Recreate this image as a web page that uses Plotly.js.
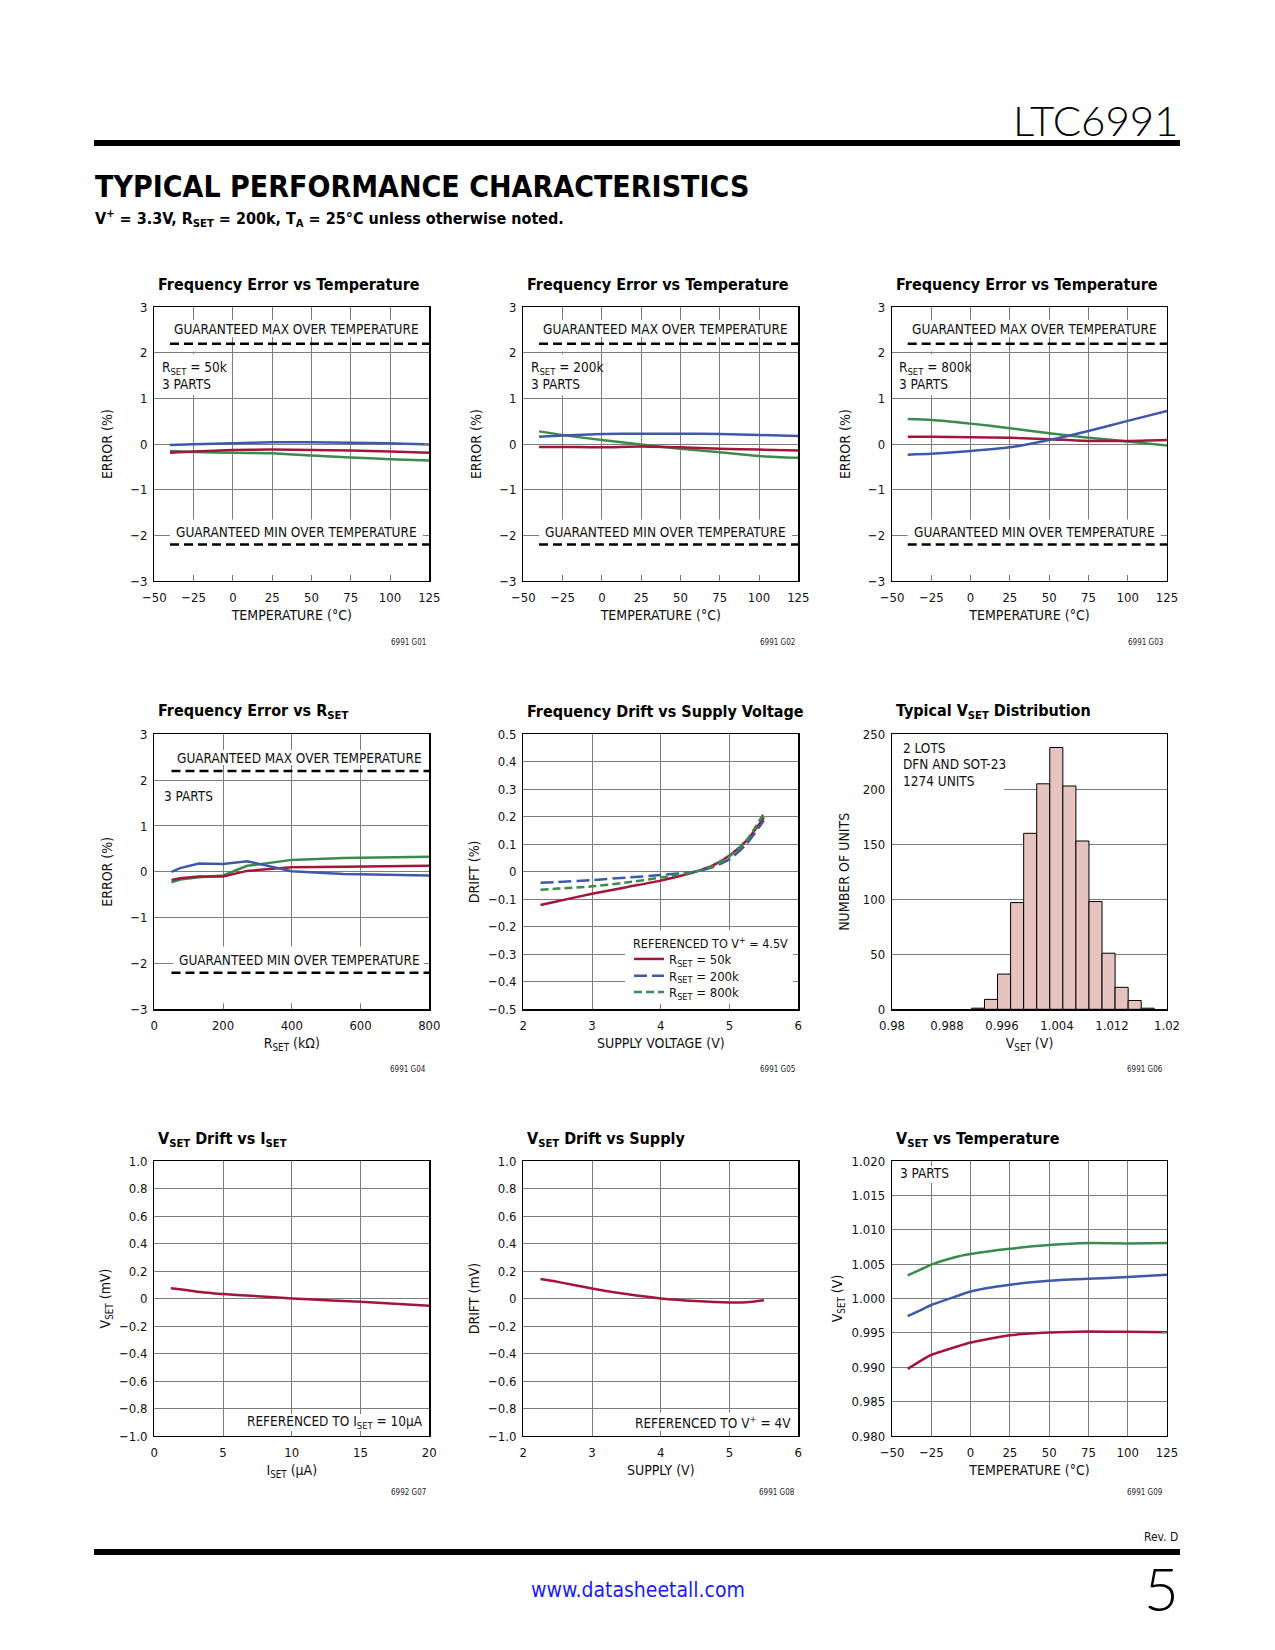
<!DOCTYPE html>
<html><head><meta charset="utf-8">
<script src="https://cdn.plot.ly/plotly-3.0.1.min.js"></script>
<style>html,body{margin:0;padding:0;background:#fff}#chart{width:1275px;height:1650px}</style>
</head><body><div id="chart"></div>
<script>
// ---------------- DATA ----------------
const tempX = [-40, -25, 0, 25, 50, 75, 100, 125];
const limTempX = [-40, 125];
const limMax = [2.2, 2.2];
const limMin = [-2.2, -2.2];

// G01  RSET = 50k
const g1Blue  = [-0.02, 0.00, 0.02, 0.04, 0.04, 0.03, 0.02, -0.01];
const g1Red   = [-0.19, -0.16, -0.13, -0.12, -0.13, -0.14, -0.16, -0.19];
const g1Green = [-0.15, -0.17, -0.19, -0.20, -0.25, -0.29, -0.33, -0.36];
// G02  RSET = 200k
const g2Blue  = [0.16, 0.19, 0.22, 0.23, 0.23, 0.22, 0.20, 0.18];
const g2Red   = [-0.06, -0.06, -0.07, -0.05, -0.07, -0.10, -0.12, -0.14];
const g2Green = [0.28, 0.20, 0.09, -0.01, -0.10, -0.18, -0.26, -0.30];
// G03  RSET = 800k
const g3Blue  = [-0.23, -0.21, -0.15, -0.07, 0.09, 0.29, 0.51, 0.73];
const g3Red   = [0.16, 0.16, 0.15, 0.14, 0.11, 0.07, 0.07, 0.09];
const g3Green = [0.55, 0.53, 0.45, 0.35, 0.24, 0.14, 0.06, -0.03];

// G04  error vs RSET
const rsetX = [50, 75, 130, 200, 270, 400, 550, 800];
const limRsetX = [50, 800];
const g4Blue  = [0.00, 0.08, 0.18, 0.17, 0.23, 0.01, -0.05, -0.08];
const g4Red   = [-0.18, -0.14, -0.10, -0.10, 0.02, 0.10, 0.11, 0.13];
const g4Green = [-0.23, -0.17, -0.12, -0.08, 0.13, 0.26, 0.30, 0.33];

// G05  drift vs supply
const supplyX = [2.25, 2.5, 3, 3.5, 4, 4.25, 4.5, 4.75, 5, 5.25, 5.5];
const g5R50k  = [-0.121, -0.107, -0.080, -0.056, -0.032, -0.017, 0, 0.022, 0.059, 0.114, 0.198];
const g5R200k = [-0.040, -0.037, -0.030, -0.021, -0.012, -0.006, 0, 0.016, 0.046, 0.102, 0.187];
const g5R800k = [-0.065, -0.061, -0.053, -0.039, -0.021, -0.011, 0, 0.019, 0.056, 0.116, 0.213];
const g5Names = ['R<sub>SET</sub> = 50k', 'R<sub>SET</sub> = 200k', 'R<sub>SET</sub> = 800k'];

// G06  VSET histogram
const vsetBins   = [0.9925, 0.9944, 0.9963, 0.9982, 1.0001, 1.0020, 1.0039, 1.0058, 1.0077, 1.0096, 1.0115, 1.0134, 1.0153, 1.0172];
const vsetCounts = [1, 9, 32, 97, 160, 205, 238, 203, 153, 98, 51, 20, 8, 1];

// G07  VSET drift vs ISET
const isetX = [1.2, 2, 3, 4, 5, 7.5, 10, 12.5, 15, 17.5, 20];
const g7Drift = [0.075, 0.065, 0.051, 0.041, 0.032, 0.017, 0, -0.012, -0.024, -0.039, -0.053];

// G08  VSET drift vs supply
const supply8X = [2.25, 2.5, 3, 3.5, 4, 4.5, 5, 5.25, 5.5];
const g8Drift = [0.141, 0.121, 0.073, 0.032, 0, -0.019, -0.029, -0.027, -0.012];

// G09  VSET vs temperature
const temp9X = [-40, -30, -25, -10, 0, 25, 50, 75, 100, 125];
const g9Green = [1.00335, 1.0044, 1.00492, 1.0060, 1.00646, 1.00723, 1.00777, 1.00806, 1.00801, 1.00806];
const g9Blue  = [0.99743, 0.9985, 0.99905, 1.00024, 1.00102, 1.00199, 1.00257, 1.00286, 1.00311, 1.00345];
const g9Red   = [0.98976, 0.99118, 0.99180, 0.99291, 0.99359, 0.99466, 0.99505, 0.99520, 0.99515, 0.99510];

const tick7Vals = [-1, -0.8, -0.6, -0.4, -0.2, 0, 0.2, 0.4, 0.6, 0.8, 1];
const tick7Text = ['\u22121.0', '\u22120.8', '\u22120.6', '\u22120.4', '\u22120.2', '0', '0.2', '0.4', '0.6', '0.8', '1.0'];

// ---------------- STYLE ----------------
const W = 1275, H = 1650;
const NARROW = "DejaVu Sans Condensed, Liberation Sans, sans-serif";
const THIN = "Lato, DejaVu Sans, sans-serif";
const RED = '#a3163a', BLUE = '#4058a8', GREEN = '#3a8b4e';
const GRID = '#7d7d7d';
const COLX = [[154.3, 429.3], [523.3, 798.3], [892, 1167]];
const ROWY = [[307.3, 581], [734.3, 1009.3], [1161, 1436]];
const px = v => v / W, py = v => 1 - v / H;

function legendAt(yCenter) {
  return {x: px(629), y: py(yCenter), xanchor: 'left', yanchor: 'middle', bgcolor: 'rgba(0,0,0,0)',
    font: {family: NARROW, size: 13, color: '#111'}, itemwidth: 30};
}
const layout = {
  width: W, height: H, margin: {l: 0, r: 0, t: 0, b: 0},
  paper_bgcolor: '#fff', plot_bgcolor: '#fff',
  showlegend: true,
  legend: legendAt(959), legend2: legendAt(975.7), legend3: legendAt(992),
  annotations: [], shapes: []
};

const sfx = k => (k === 1 ? '' : String(k));
function axes(k, col, row, xo, yo) {
  const common = {showline: true, mirror: 'ticks', linecolor: '#000', linewidth: 1.3,
    ticks: 'inside', ticklen: 5, tickwidth: 1, tickcolor: GRID,
    showgrid: true, gridcolor: GRID, gridwidth: 1, zeroline: false, fixedrange: true,
    tickfont: {family: NARROW, size: 13, color: '#111'}};
  if (xo.title) xo.title.font = {family: NARROW, size: 14, color: '#111'};
  if (yo.title) yo.title.font = {family: NARROW, size: 14, color: '#111'};
  layout['xaxis' + sfx(k)] = Object.assign({}, common,
    {domain: [px(COLX[col][0]), px(COLX[col][1])], anchor: 'y' + sfx(k), ticklabelstandoff: 4}, xo);
  layout['yaxis' + sfx(k)] = Object.assign({}, common,
    {domain: [py(ROWY[row][1]), py(ROWY[row][0])], anchor: 'x' + sfx(k), ticklabelstandoff: 3}, yo);
}
function ann(text, xref, yref, x, y, xa, ya, size, extra) {
  layout.annotations.push(Object.assign({text, xref, yref, x, y, xanchor: xa, yanchor: ya,
    showarrow: false, font: {family: NARROW, size: size, color: '#111'}}, extra || {}));
}
function mask(k, x0, x1, y0, y1) {
  layout.shapes.push({type: 'rect', xref: 'x' + sfx(k), yref: 'y' + sfx(k), x0, x1, y0, y1,
    fillcolor: '#fff', line: {width: 0}, layer: 'between'});
}
const traces = [];
function line(k, x, y, color, extra) {
  traces.push(Object.assign({type: 'scatter', mode: 'lines', x, y, xaxis: 'x' + sfx(k), yaxis: 'y' + sfx(k),
    line: {color, width: 2.5, shape: 'spline', smoothing: 0.6}, showlegend: false, hoverinfo: 'skip'}, extra || {}));
}
const DASHLIM = {color: '#000', width: 2.5, dash: '9px,5px'};
const TXT = 13.5;

// ---------------- CHARTS 1-3: error vs temperature ----------------
const tempSets = [[g1Red, g1Blue, g1Green, '50k'], [g2Red, g2Blue, g2Green, '200k'], [g3Red, g3Blue, g3Green, '800k']];
tempSets.forEach((s, i) => {
  const k = i + 1;
  axes(k, i, 0,
    {range: [-50, 125], tick0: -50, dtick: 25, title: {text: 'TEMPERATURE (\u00B0C)', standoff: 6}},
    {range: [-3, 3], dtick: 1, title: {text: 'ERROR (%)', standoff: 14}});
  mask(k, -38, 118.5, 2.35, 2.72);
  mask(k, -50, -12.5, 2.03, 2.72);
  mask(k, -50, -12.5, 1.07, 1.97);
  mask(k, -40, 121, -2.87, -1.65);
  line(k, limTempX, limMax, '#000', {line: DASHLIM});
  line(k, limTempX, limMin, '#000', {line: DASHLIM});
  line(k, tempX, s[2], GREEN);
  line(k, tempX, s[0], RED);
  line(k, tempX, s[1], BLUE);
  const xr = 'x' + sfx(k), yr = 'y' + sfx(k);
  ann('GUARANTEED MAX OVER TEMPERATURE', xr, yr, 40.6, 2.53, 'center', 'middle', TXT);
  ann('GUARANTEED MIN OVER TEMPERATURE', xr, yr, 40.7, -1.93, 'center', 'middle', TXT);
  ann('R<sub>SET</sub> = ' + s[3], xr, yr, -46.6, 1.66, 'left', 'middle', TXT);
  ann('3 PARTS', xr, yr, -46.6, 1.32, 'left', 'middle', TXT);
});

// ---------------- CHART 4: error vs RSET ----------------
axes(4, 0, 1,
  {range: [0, 800], dtick: 200, title: {text: 'R<sub>SET</sub> (k\u03A9)', standoff: 6}},
  {range: [-3, 3], dtick: 1, title: {text: 'ERROR (%)', standoff: 14}});
mask(4, 64, 779, 2.33, 2.66);
mask(4, 55, 787, -2.87, -1.63);
line(4, limRsetX, limMax, '#000', {line: DASHLIM});
line(4, limRsetX, limMin, '#000', {line: DASHLIM});
line(4, rsetX, g4Green, GREEN, {line: {color: GREEN, width: 2.5, shape: 'linear'}});
line(4, rsetX, g4Red, RED, {line: {color: RED, width: 2.5, shape: 'linear'}});
line(4, rsetX, g4Blue, BLUE, {line: {color: BLUE, width: 2.5, shape: 'linear'}});
ann('GUARANTEED MAX OVER TEMPERATURE', 'x4', 'y4', 421, 2.49, 'center', 'middle', TXT);
ann('GUARANTEED MIN OVER TEMPERATURE', 'x4', 'y4', 421, -1.93, 'center', 'middle', TXT);
ann('3 PARTS', 'x4', 'y4', 22, 1.66, 'left', 'middle', TXT);

// ---------------- CHART 5: drift vs supply ----------------
axes(5, 1, 1,
  {range: [2, 6], dtick: 1, title: {text: 'SUPPLY VOLTAGE (V)', standoff: 6}},
  {range: [-0.5, 0.5], dtick: 0.1, title: {text: 'DRIFT (%)', standoff: 5}});
mask(5, 3.48, 5.93, -0.49, -0.213);
line(5, supplyX, g5R50k, RED, {name: g5Names[0], showlegend: true, legend: 'legend',
  line: {color: RED, width: 2.5, shape: 'spline', smoothing: 0.6}});
line(5, supplyX, g5R200k, BLUE, {name: g5Names[1], showlegend: true, legend: 'legend2',
  line: {color: BLUE, width: 2.5, dash: '13px,5px', shape: 'spline', smoothing: 0.6}});
line(5, supplyX, g5R800k, GREEN, {name: g5Names[2], showlegend: true, legend: 'legend3',
  line: {color: GREEN, width: 2.5, dash: '8px,4px', shape: 'spline', smoothing: 0.6}});
ann('REFERENCED TO V<sup>+</sup> = 4.5V', 'paper', 'paper', px(631), py(943), 'left', 'middle', 12.5);

// ---------------- CHART 6: histogram ----------------
axes(6, 2, 1,
  {range: [0.98, 1.02], tick0: 0.98, dtick: 0.008, showgrid: false, ticks: '', title: {text: 'V<sub>SET</sub> (V)', standoff: 6}},
  {range: [0, 250], dtick: 50, ticks: '', title: {text: 'NUMBER OF UNITS', standoff: 10}});
mask(6, 0.98, 0.9963, 190, 249);
traces.push({type: 'bar', x: vsetBins, y: vsetCounts, width: 0.0019, xaxis: 'x6', yaxis: 'y6',
  marker: {color: '#e6c3be', line: {color: '#000', width: 1}}, showlegend: false, hoverinfo: 'skip'});
ann('2 LOTS', 'x6', 'y6', 0.9813, 237.9, 'left', 'middle', TXT);
ann('DFN AND SOT-23', 'x6', 'y6', 0.9813, 222.7, 'left', 'middle', TXT);
ann('1274 UNITS', 'x6', 'y6', 0.9813, 207.5, 'left', 'middle', TXT);

// ---------------- CHART 7 ----------------
axes(7, 0, 2,
  {range: [0, 20], dtick: 5, title: {text: 'I<sub>SET</sub> (\u00B5A)', standoff: 6}},
  {range: [-1, 1], tickvals: tick7Vals, ticktext: tick7Text, title: {text: 'V<sub>SET</sub> (mV)', standoff: 5}});
mask(7, 7.1, 19.9, -0.995, -0.84);
line(7, isetX, g7Drift, RED);
ann('REFERENCED TO I<sub>SET</sub> = 10\u00B5A', 'x7', 'y7', 19.7, -0.9, 'right', 'middle', TXT);

// ---------------- CHART 8 ----------------
axes(8, 1, 2,
  {range: [2, 6], dtick: 1, title: {text: 'SUPPLY (V)', standoff: 6}},
  {range: [-1, 1], tickvals: tick7Vals, ticktext: tick7Text, title: {text: 'DRIFT (mV)', standoff: 5}});
mask(8, 3.77, 5.96, -0.99, -0.83);
line(8, supply8X, g8Drift, RED);
ann('REFERENCED TO V<sup>+</sup> = 4V', 'x8', 'y8', 5.93, -0.9, 'right', 'middle', TXT);

// ---------------- CHART 9 ----------------
axes(9, 2, 2,
  {range: [-50, 125], tick0: -50, dtick: 25, title: {text: 'TEMPERATURE (\u00B0C)', standoff: 6}},
  {range: [0.98, 1.02], dtick: 0.005, tickformat: '.3f', title: {text: 'V<sub>SET</sub> (V)', standoff: 5}});
mask(9, -50, -12, 1.0168, 1.0199);
line(9, temp9X, g9Green, GREEN);
line(9, temp9X, g9Blue, BLUE);
line(9, temp9X, g9Red, RED);
ann('3 PARTS', 'x9', 'y9', -46.3, 1.0183, 'left', 'middle', TXT);

// ---------------- chart titles & figure codes ----------------
const chartTitles = ['Frequency Error vs Temperature', 'Frequency Error vs Temperature', 'Frequency Error vs Temperature',
  'Frequency Error vs R<sub>SET</sub>', 'Frequency Drift vs Supply Voltage', 'Typical V<sub>SET</sub> Distribution',
  'V<sub>SET</sub> Drift vs I<sub>SET</sub>', 'V<sub>SET</sub> Drift vs Supply', 'V<sub>SET</sub> vs Temperature'];
const figCodes = ['6991 G01', '6991 G02', '6991 G03', '6991 G04', '6991 G05', '6991 G06', '6992 G07', '6991 G08', '6991 G09'];
const titleX = [156, 525, 893.5], titleY = [284, 711, 1139];
const codeX = [428, 797, 1165], codeY = [642, 1069, 1492];
chartTitles.forEach((t, i) => {
  const c = i % 3, r = Math.floor(i / 3);
  ann(t, 'paper', 'paper', px(titleX[c]), py(titleY[r]), 'left', 'middle', 16,
    {font: {family: NARROW, size: 16, color: '#000', weight: 700}});
  ann(figCodes[i], 'paper', 'paper', px(codeX[c]), py(codeY[r]), 'right', 'middle', 8,
    {font: {family: NARROW, size: 8, color: '#222'}});
});

// ---------------- page header / footer ----------------
layout.shapes.push({type: 'rect', xref: 'paper', yref: 'paper', x0: px(94), x1: px(1180), y0: py(146), y1: py(140), fillcolor: '#000', line: {width: 0}});
layout.shapes.push({type: 'rect', xref: 'paper', yref: 'paper', x0: px(94), x1: px(1180), y0: py(1555), y1: py(1549), fillcolor: '#000', line: {width: 0}});
ann('LTC6991', 'paper', 'paper', px(1180), py(120), 'right', 'middle', 42,
  {font: {family: THIN, size: 42, color: '#000', weight: 300}});
ann('TYPICAL PERFORMANCE CHARACTERISTICS', 'paper', 'paper', px(93), py(186), 'left', 'middle', 30,
  {font: {family: NARROW, size: 30, color: '#000', weight: 700}});
ann('V<sup>+</sup> = 3.3V, R<sub>SET</sub> = 200k, T<sub>A</sub> = 25\u00B0C unless otherwise noted.', 'paper', 'paper', px(93), py(219), 'left', 'middle', 16,
  {font: {family: NARROW, size: 16, color: '#000', weight: 700}});
ann('Rev. D', 'paper', 'paper', px(1180), py(1537), 'right', 'middle', 12);
ann('www.datasheetall.com', 'paper', 'paper', px(638), py(1590), 'center', 'middle', 21,
  {font: {family: NARROW, size: 21, color: '#1a1aff'}});
ann('5', 'paper', 'paper', px(1181), py(1588), 'right', 'middle', 60,
  {font: {family: THIN, size: 60, color: '#000', weight: 300}});

Plotly.newPlot('chart', traces, layout, {staticPlot: true, displayModeBar: false});
</script></body></html>
